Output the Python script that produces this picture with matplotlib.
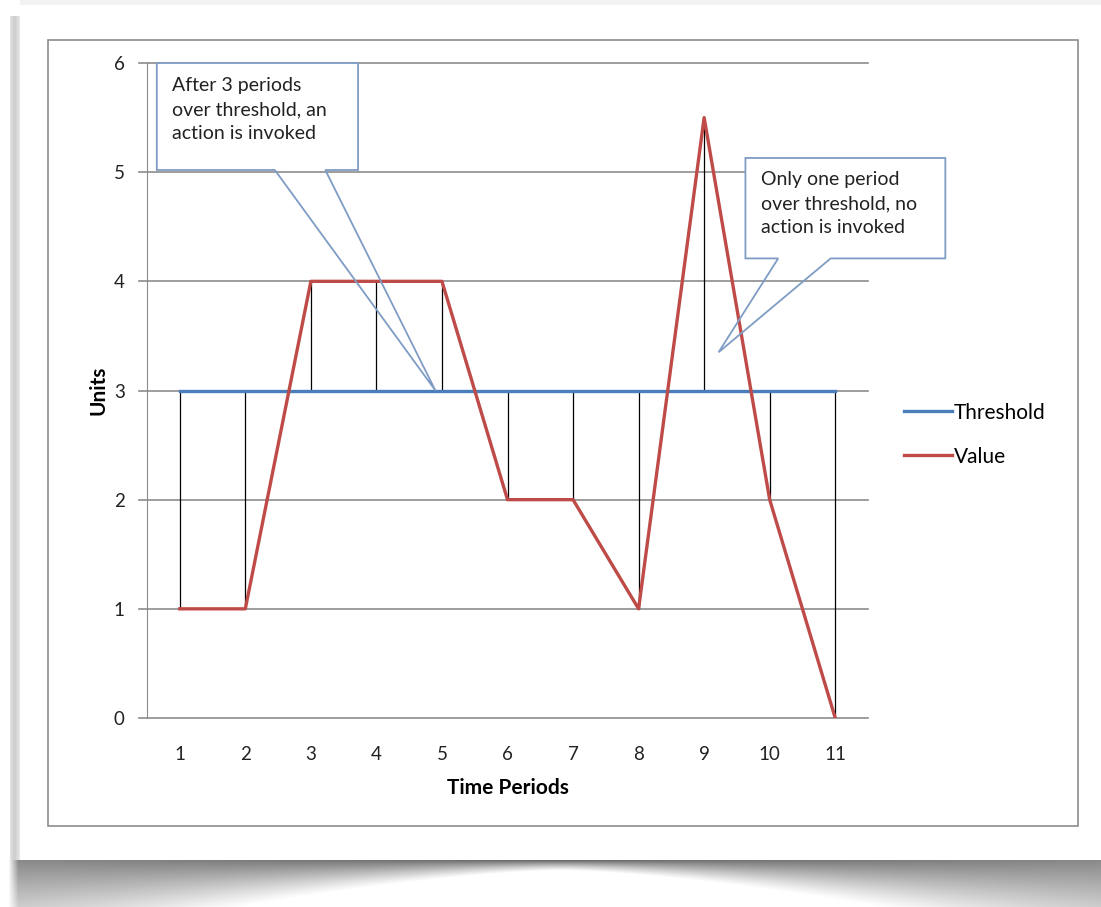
import numpy as np
import matplotlib.pyplot as plt
from matplotlib.patches import Rectangle, Polygon

periods = [1, 2, 3, 4, 5, 6, 7, 8, 9, 10, 11]
threshold = [3, 3, 3, 3, 3, 3, 3, 3, 3, 3, 3]
value = [1, 1, 4, 4, 4, 2, 2, 1, 5.5, 2, 0]

note_action = "After 3 periods\nover threshold, an\naction is invoked"
note_no_action = "Only one period\nover threshold, no\naction is invoked"

plt.rcParams['font.family'] = ['Lato', 'DejaVu Sans']

W, H = 1101, 907
fig = plt.figure(figsize=(W / 100, H / 100), dpi=100)

# background: paper card with a curled shadow underneath
bg = fig.add_axes([0, 0, 1, 1])
img = np.ones((H, W, 3))
yy, xx = np.mgrid[0:H, 0:W].astype(float)
card_bottom = 860
edge = np.clip(np.abs(xx - 560) / 540, 0, 1)
depth = 10 + 80 * edge ** 1.5
s = (yy - card_bottom) / depth
d0 = 0.58 - 0.12 * edge
dark = d0 * np.clip(1 - s, 0, 1) ** 1.2 * np.clip((xx - 8) / 10, 0, 1)
below = yy >= card_bottom
img[below] = (1 - dark)[below][:, None]
left = (xx >= 10) & (xx < 20) & (yy < card_bottom) & (yy > 15)
img[left] = (0.8 + 0.02 * np.abs(xx - 14))[left][:, None].clip(0, 1)
img[0:5, 20:] = 0.95
bg.imshow(img, extent=[0, W, H, 0], aspect='auto', interpolation='bilinear')
bg.set_xlim(0, W)
bg.set_ylim(H, 0)
bg.axis('off')

# chart frame
bg.add_patch(Rectangle((48, 40), 1030, 786, fill=False, ec='#8c8c8c', lw=1.2))

ax = fig.add_axes([147 / W, 1 - 718 / H, (868 - 147) / W, (718 - 63) / H])
ax.set_xlim(0.5, 11.5)
ax.set_ylim(0, 6)

for y in range(0, 7):
    ax.plot([0.38, 11.5], [y, y], color='#8c8c8c', lw=1.2, clip_on=False, zorder=1)

lo = np.minimum(value, threshold)
hi = np.maximum(value, threshold)
ax.vlines(periods, lo, hi, color='black', lw=0.9, zorder=2)
ax.plot(periods, threshold, color='#4a7ebb', lw=2.4, label='Threshold', zorder=3)
ax.plot(periods, value, color='#be4b48', lw=2.4, label='Value', zorder=4)

for s_ in ['top', 'right', 'bottom']:
    ax.spines[s_].set_visible(False)
ax.spines['left'].set_color('#8c8c8c')
ax.set_xticks(periods)
ax.set_xticklabels([str(p) for p in periods])
ax.set_yticks(range(0, 7))
ax.tick_params(axis='x', length=0, pad=20, labelsize=13.5, colors='#222222')
ax.tick_params(axis='y', length=0, pad=16, labelsize=13.5, colors='#222222')
ax.set_xlabel('Time Periods', fontsize=15, fontweight='bold', labelpad=11)
ax.set_ylabel('Units', fontsize=15, fontweight='bold', labelpad=4)

# callouts
box_ec = '#7f9cc4'
ax.add_patch(Rectangle((0.65, 5.02), 3.07, 0.98, fc='white', ec='none',
                       zorder=5, clip_on=False))
ax.add_patch(Polygon([(0.65, 6.0), (3.72, 6.0), (3.72, 5.02), (3.22, 5.02),
                      (4.9, 3.0), (2.45, 5.02), (0.65, 5.02)], closed=True,
                     fill=False, ec=box_ec, lw=1.3, zorder=6, clip_on=False))
ax.text(0.88, 5.87, note_action, fontsize=14, va='top', ha='left',
        linespacing=1.5, color='#222222', zorder=7)

ax.add_patch(Rectangle((9.63, 4.21), 3.05, 0.92, fc='white', ec='none',
                       zorder=5, clip_on=False))
ax.add_patch(Polygon([(9.63, 5.13), (12.68, 5.13), (12.68, 4.21), (10.93, 4.21),
                      (9.22, 3.35), (10.13, 4.21), (9.63, 4.21)], closed=True,
                     fill=False, ec=box_ec, lw=1.3, zorder=6, clip_on=False))
ax.text(9.87, 5.01, note_no_action, fontsize=14, va='top', ha='left',
        linespacing=1.5, color='#222222', zorder=7, clip_on=False)

fig.legend(loc='upper left', bbox_to_anchor=(885 / W, 1 - 384 / H), frameon=False,
           fontsize=15, handlelength=2.3, handletextpad=0.1, labelspacing=1.15)

fig.savefig('out.png', dpi=100)
